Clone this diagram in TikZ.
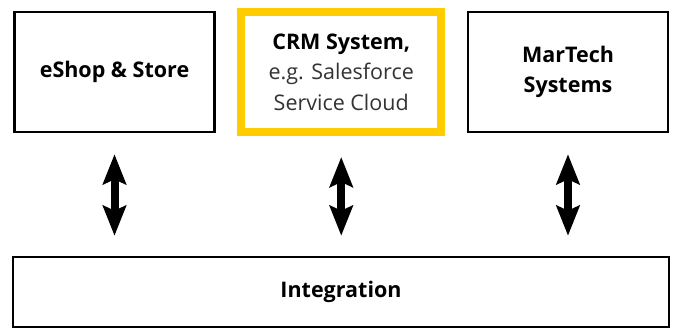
\documentclass[tikz,border=0pt]{standalone}
\usepackage{fontspec}
\setmainfont{Open Sans}
\usetikzlibrary{arrows.meta,positioning}
\definecolor{crmyellow}{HTML}{FFCC00}
\definecolor{lighttext}{HTML}{333333}
\tikzset{
  sysbox/.style={draw=black,line width=2.5pt,fill=white,minimum width=200pt,minimum height=120pt,inner sep=0pt,align=center,font=\fontsize{21.5}{30.5}\selectfont\bfseries},
  crmbox/.style={sysbox,draw=crmyellow,line width=8pt},
  intbox/.style={sysbox,minimum width=656pt,minimum height=70pt},
  link/.style={{Stealth[length=30pt,width=23pt,inset=5pt]}-{Stealth[length=30pt,width=23pt,inset=5pt]},line width=8pt,shorten <=21pt,shorten >=20pt},
}
\begin{document}
\begin{tikzpicture}[x=1pt,y=1pt,node distance=21.5pt]
  \useasboundingbox (0,0) rectangle (677,329);
  \node[sysbox] (shop) at (114.5,257) {eShop \& Store};
  \node[crmbox,right=of shop] (crm) {CRM System,\\{\mdseries\color{lighttext}e.g. Salesforce}\\{\mdseries\color{lighttext}Service Cloud}};
  \node[sysbox,right=of crm] (martech) {MarTech\\Systems};
  \node[intbox] (integ) at (341,37) {Integration};
  \foreach \s in {shop,crm,martech}
    \draw[link] (\s.south) -- (\s.south |- integ.north);
\end{tikzpicture}
\end{document}
